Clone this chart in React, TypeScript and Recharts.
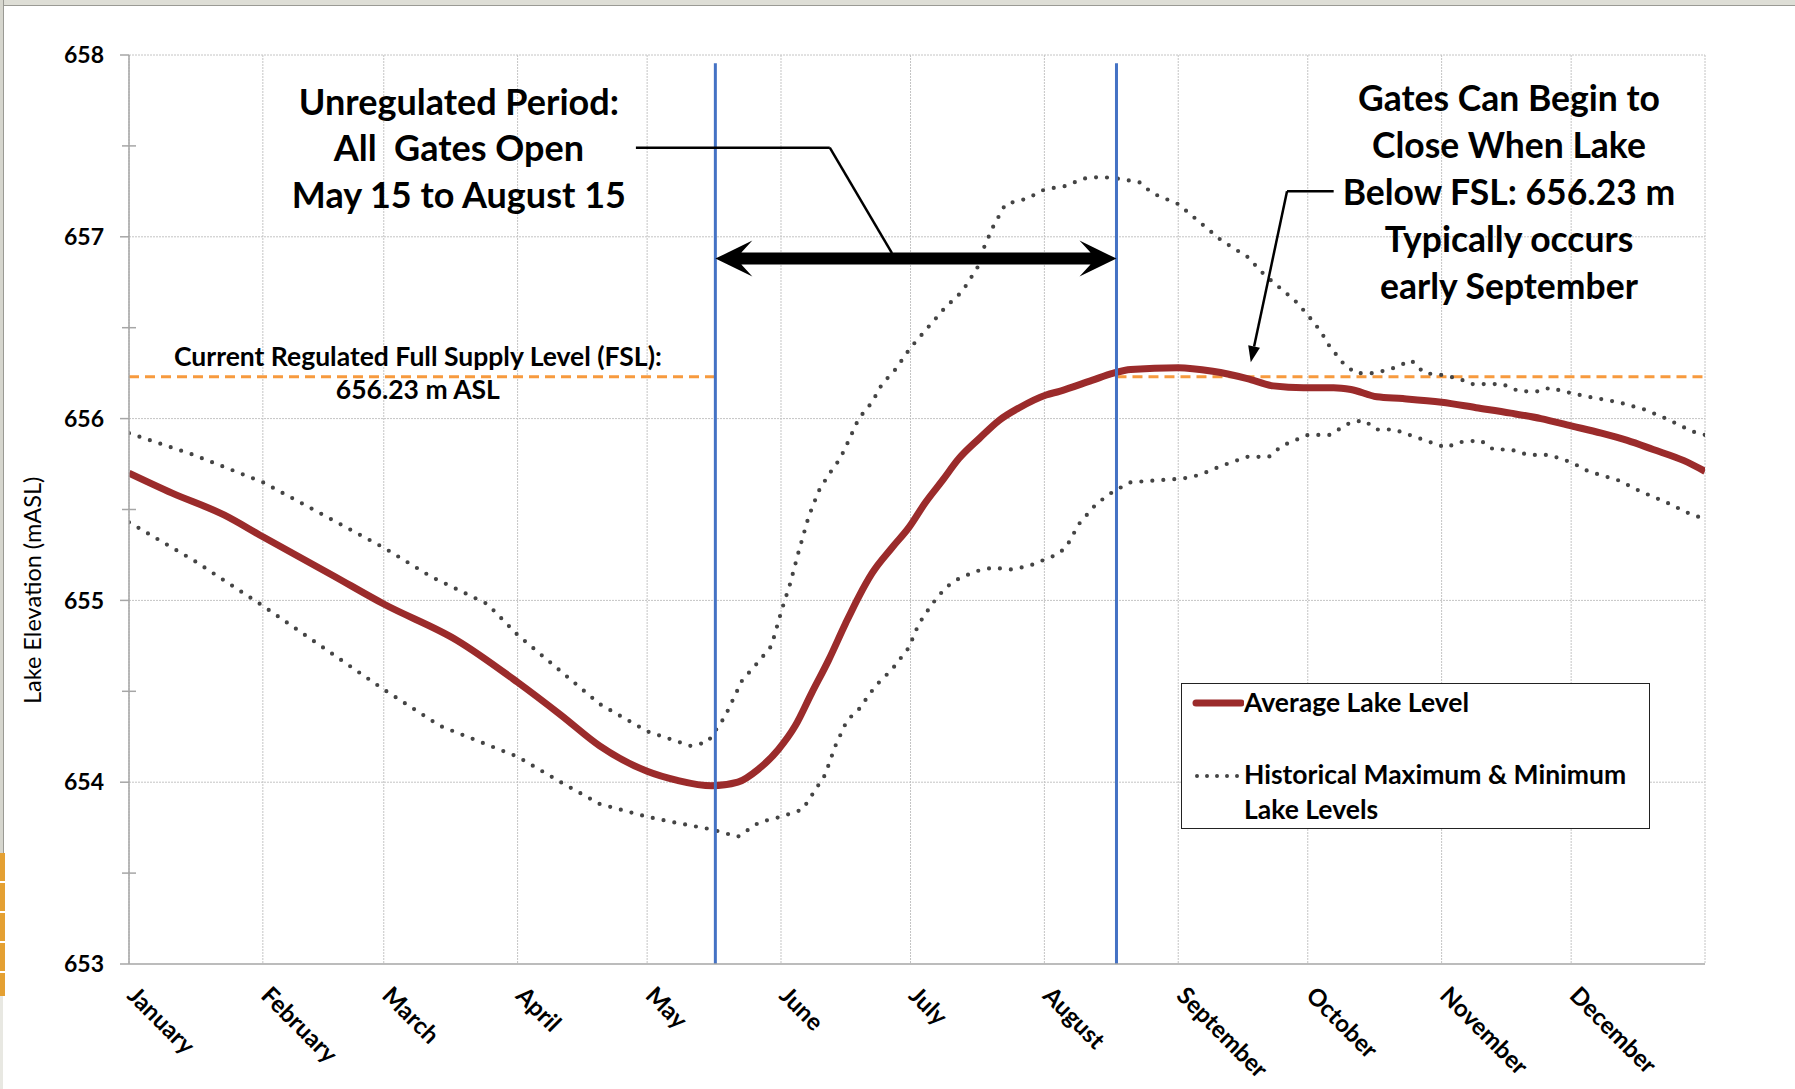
import React from 'react';
import {
  LineChart, Line, XAxis, YAxis, CartesianGrid, ReferenceLine, ReferenceDot,
} from 'recharts';

// ---- data (day of year 0..365, lake level m ASL) ----
const avgDays = [0, 10, 22, 31, 47, 59, 76, 90, 100, 109, 120, 127, 135, 141, 145.7, 150.4, 154.3, 158.1, 162, 165.9, 169, 172.1, 176.7, 180.6, 184.5, 188.4, 192.2, 196.9, 201.5, 206.2, 212.4, 215.5, 223, 228, 232, 243, 251, 259, 265, 272, 279, 283, 289, 295, 304, 312, 320, 327, 334, 341, 347, 353, 360, 365];
const avgLevels = [655.70, 655.59, 655.47, 655.35, 655.14, 654.98, 654.78, 654.55, 654.37, 654.20, 654.06, 654.01, 653.98, 654.00, 654.07, 654.18, 654.31, 654.49, 654.67, 654.87, 655.02, 655.15, 655.29, 655.40, 655.54, 655.66, 655.78, 655.89, 655.99, 656.06, 656.13, 656.15, 656.21, 656.25, 656.27, 656.28, 656.26, 656.22, 656.18, 656.17, 656.17, 656.16, 656.12, 656.11, 656.09, 656.06, 656.03, 656.00, 655.96, 655.92, 655.88, 655.83, 655.77, 655.71];

const maxDays = [0, 15, 31, 45, 59, 70, 83, 90, 109, 120, 130, 134, 138, 142, 145.7, 148.8, 151.2, 153.1, 155, 157.4, 159.7, 162, 164.7, 166.7, 169, 172.1, 174.4, 177.5, 181, 185, 189, 193, 197, 198, 200, 203, 208, 212, 217, 221, 225, 229, 234, 237, 243, 247, 250, 253, 259, 263, 270, 273, 276, 278, 281, 284, 288, 292, 295, 297, 300, 304, 308, 311, 318, 322, 327, 329, 334, 338, 345, 351, 356, 362, 365];
const maxLevels = [655.92, 655.80, 655.65, 655.47, 655.29, 655.13, 654.98, 654.81, 654.43, 654.28, 654.20, 654.22, 654.36, 654.56, 654.66, 654.75, 654.95, 655.09, 655.26, 655.46, 655.60, 655.69, 655.78, 655.88, 656.00, 656.09, 656.19, 656.27, 656.39, 656.50, 656.61, 656.70, 656.85, 656.94, 657.05, 657.18, 657.21, 657.26, 657.28, 657.32, 657.33, 657.32, 657.30, 657.24, 657.18, 657.10, 657.04, 656.98, 656.89, 656.79, 656.65, 656.57, 656.48, 656.40, 656.31, 656.25, 656.25, 656.27, 656.30, 656.32, 656.25, 656.24, 656.22, 656.19, 656.19, 656.15, 656.15, 656.17, 656.14, 656.12, 656.09, 656.05, 656.00, 655.93, 655.91];

const minDays = [0, 15, 31, 45, 59, 72, 90, 100, 109, 120, 126, 135, 141, 146, 151, 156, 161.2, 163.6, 166.3, 169, 172.9, 176.7, 180.6, 182.9, 186, 189.1, 192.2, 196.1, 200, 204.3, 208.5, 214.7, 217, 220, 224, 228, 232, 238, 244, 248, 253, 259, 264, 267, 273, 278, 283, 286, 289, 293, 299, 305, 308, 313, 316, 320, 324, 329, 334, 338, 345, 350, 356, 362, 365];
const minLevels = [655.43, 655.22, 654.97, 654.74, 654.51, 654.31, 654.14, 654.00, 653.88, 653.81, 653.78, 653.74, 653.70, 653.78, 653.81, 653.85, 654.04, 654.20, 654.34, 654.40, 654.53, 654.62, 654.74, 654.87, 654.98, 655.07, 655.12, 655.16, 655.18, 655.17, 655.19, 655.25, 655.29, 655.42, 655.53, 655.60, 655.65, 655.66, 655.67, 655.69, 655.74, 655.79, 655.79, 655.85, 655.91, 655.91, 655.98, 655.99, 655.94, 655.94, 655.89, 655.84, 655.87, 655.88, 655.83, 655.83, 655.80, 655.80, 655.76, 655.71, 655.66, 655.60, 655.54, 655.47, 655.45];

const monthTicks = [0, 31, 59, 90, 120, 151, 181, 212, 243, 273, 304, 334, 365];
const monthLabels = ['January', 'February', 'March', 'April', 'May', 'June', 'July', 'August', 'September', 'October', 'November', 'December'];
const yTicks = [653, 653.5, 654, 654.5, 655, 655.5, 656, 656.5, 657, 657.5, 658];
const gridLevels = [654, 655, 656, 657, 658];

const FSL = 656.23;
const gateOpenDay = 135.8;
const gateCloseDay = 228.7;

const avgData = avgDays.map((d, i) => ({ day: d, level: avgLevels[i] }));
const maxData = maxDays.map((d, i) => ({ day: d, level: maxLevels[i] }));
const minData = minDays.map((d, i) => ({ day: d, level: minLevels[i] }));

const FONT = "Lato, 'Open Sans', sans-serif";
const AVG_COLOR = '#9B2B2B';
const DOT_COLOR = '#444444';
const AXIS_COLOR = '#a6a6a6';

const XTick = (props: any) => {
  const { x, y, index } = props;
  if (index >= monthLabels.length) return null;
  return (
    <text
      transform={`translate(${x - 3},${y + 33}) rotate(45)`}
      textAnchor="start"
      fontFamily={FONT}
      fontWeight={700}
      fontSize={24}
      fill="#000"
    >
      {monthLabels[index]}
    </text>
  );
};

const YTick = (props: any) => {
  const { x, y, payload } = props;
  const v = payload.value;
  const isInt = Math.abs(v - Math.round(v)) < 1e-6;
  return (
    <g>
      {isInt ? (
        <line x1={x - 9} x2={x} y1={y} y2={y} stroke={AXIS_COLOR} strokeWidth={1.5} />
      ) : (
        <line x1={x - 7} x2={x + 7} y1={y} y2={y} stroke={AXIS_COLOR} strokeWidth={1.5} />
      )}
      {isInt && (
        <text x={x - 25} y={y} dy="0.36em" textAnchor="end" fontFamily={FONT} fontWeight={700} fontSize={23} fill="#000">
          {Math.round(v)}
        </text>
      )}
    </g>
  );
};

const YLabel = (props: any) => {
  const { viewBox } = props;
  const cx = 32;
  const cy = viewBox.y + viewBox.height * 0.589;
  return (
    <text
      x={cx}
      y={cy}
      transform={`rotate(-90, ${cx}, ${cy})`}
      textAnchor="middle"
      dominantBaseline="central"
      fontFamily={FONT}
      fontSize={23.5}
      fill="#000"
    >
      Lake Elevation (mASL)
    </text>
  );
};

const TextBlock = (lines: string[], size: number, lineH: number) => (props: any) => {
  const { cx, cy } = props;
  return (
    <g>
      {lines.map((t, i) => (
        <text
          key={i}
          x={cx}
          y={cy + i * lineH}
          dy="0.35em"
          textAnchor="middle"
          fontFamily={FONT}
          fontWeight={700}
          fontSize={size}
          fill="#000"
          style={{ whiteSpace: 'pre' }}
        >
          {t}
        </text>
      ))}
    </g>
  );
};

const DoubleArrow = (props: any) => {
  const { x1, y1, x2 } = props;
  const y = y1;
  const L = 37;
  const H = 18;
  const N = 26;
  const T = 6;
  const d = `M ${x1} ${y} L ${x1 + L} ${y - H} L ${x1 + N} ${y - T} L ${x2 - N} ${y - T} L ${x2 - L} ${y - H} L ${x2} ${y} L ${x2 - L} ${y + H} L ${x2 - N} ${y + T} L ${x1 + N} ${y + T} L ${x1 + L} ${y + H} Z`;
  return <path d={d} fill="#000" />;
};

const ArrowLine = (props: any) => {
  const { x1, y1, x2, y2 } = props;
  const ang = Math.atan2(y2 - y1, x2 - x1);
  const len = 16;
  const w = 6;
  const bx = x2 - len * Math.cos(ang);
  const by = y2 - len * Math.sin(ang);
  const px = -Math.sin(ang) * w;
  const py = Math.cos(ang) * w;
  return (
    <g>
      <line x1={x1} y1={y1} x2={bx} y2={by} stroke="#000" strokeWidth={2.5} />
      <path d={`M ${x2} ${y2} L ${bx + px} ${by + py} L ${bx - px} ${by - py} Z`} fill="#000" />
    </g>
  );
};

const LegendBox = () => (
  <div
    style={{
      position: 'absolute',
      left: 1181,
      top: 683,
      width: 469,
      height: 146,
      boxSizing: 'border-box',
      border: '1.5px solid #222',
      background: '#fff',
      fontFamily: FONT,
      fontWeight: 700,
      fontSize: 26.5,
      color: '#000',
    }}
  >
    <svg width={62} height={140} style={{ position: 'absolute', left: 0, top: 0 }}>
      <line x1={14} x2={59} y1={19} y2={19} stroke={AVG_COLOR} strokeWidth={7} strokeLinecap="round" />
      <line x1={15} x2={60} y1={92} y2={92} stroke={DOT_COLOR} strokeWidth={4} strokeDasharray="0 10" strokeLinecap="round" />
    </svg>
    <div style={{ position: 'absolute', left: 62, top: 1, lineHeight: '34px', whiteSpace: 'nowrap' }}>Average Lake Level</div>
    <div style={{ position: 'absolute', left: 62, top: 73, lineHeight: '35px', whiteSpace: 'nowrap' }}>
      Historical Maximum &amp; Minimum
      <br />
      Lake Levels
    </div>
  </div>
);

export default function App() {
  return (
    <div style={{ position: 'absolute', left: 0, top: 0, width: 1795, height: 1089, background: '#fff', overflow: 'hidden' }}>
      {/* page frame */}
      <div style={{ position: 'absolute', left: 0, top: 0, width: 1795, height: 5, background: '#deded6', borderBottom: '1px solid #9a9a94' }} />
      <div style={{ position: 'absolute', left: 0, top: 0, width: 3, height: 853, background: '#d6d6ce', borderRight: '1px solid #9a9a94' }} />
      <div style={{ position: 'absolute', left: 0, top: 853, width: 5, height: 143, background: 'repeating-linear-gradient(#e4a032 0px, #e4a032 28px, #fff 28px, #fff 30px)' }} />
      <div style={{ position: 'absolute', left: 0, top: 996, width: 3, height: 93, background: '#e8e8e2' }} />

      <div style={{ position: 'absolute', left: 0, top: 0 }}>
        <LineChart width={1795} height={1089} margin={{ top: 55, right: 90, bottom: 0, left: 0 }}>
          <CartesianGrid horizontal={false} vertical stroke="#c4c4c4" strokeDasharray="2 1" />
          {gridLevels.map((v) => (
            <ReferenceLine key={`g${v}`} y={v} stroke="#c4c4c4" strokeDasharray="2 1" />
          ))}
          <XAxis
            type="number"
            dataKey="day"
            domain={[0, 365]}
            ticks={monthTicks}
            interval={0}
            height={125}
            tickSize={0}
            tickMargin={0}
            tickLine={false}
            tick={(p: any) => <XTick {...p} />}
            axisLine={{ stroke: AXIS_COLOR, strokeWidth: 1.5 }}
            allowDataOverflow
          />
          <YAxis
            type="number"
            domain={[653, 658]}
            ticks={yTicks}
            interval={0}
            width={129}
            tickSize={0}
            tickMargin={0}
            tickLine={false}
            tick={(p: any) => <YTick {...p} />}
            axisLine={{ stroke: AXIS_COLOR, strokeWidth: 1.5 }}
            allowDataOverflow
            label={{ content: (p: any) => <YLabel {...p} /> }}
          />

          {/* FSL dashed segments */}
          <ReferenceLine segment={[{ x: 0, y: FSL }, { x: gateOpenDay, y: FSL }]} stroke="#F79A3E" strokeWidth={3} strokeDasharray="10 6" />
          <ReferenceLine segment={[{ x: gateCloseDay, y: FSL }, { x: 365, y: FSL }]} stroke="#F79A3E" strokeWidth={3} strokeDasharray="10 6" />

          <Line data={maxData} dataKey="level" name="Historical Maximum & Minimum Lake Levels" type="linear" stroke={DOT_COLOR} strokeWidth={4.2} strokeDasharray="0 11" strokeLinecap="round" dot={false} isAnimationActive={false} />
          <Line data={minData} dataKey="level" name="Historical Minimum" type="linear" stroke={DOT_COLOR} strokeWidth={4.2} strokeDasharray="0 11" strokeLinecap="round" dot={false} isAnimationActive={false} />
          <Line data={avgData} dataKey="level" name="Average Lake Level" type="monotone" stroke={AVG_COLOR} strokeWidth={7} dot={false} isAnimationActive={false} />

          {/* regulation period boundaries */}
          <ReferenceLine segment={[{ x: gateOpenDay, y: 657.955 }, { x: gateOpenDay, y: 653 }]} stroke="#4472C4" strokeWidth={3} />
          <ReferenceLine segment={[{ x: gateCloseDay, y: 657.955 }, { x: gateCloseDay, y: 653 }]} stroke="#4472C4" strokeWidth={3} />

          {/* double arrow */}
          <ReferenceLine segment={[{ x: gateOpenDay, y: 656.88 }, { x: gateCloseDay, y: 656.88 }]} shape={(p: any) => <DoubleArrow {...p} />} />

          {/* leader line 1 */}
          <ReferenceLine segment={[{ x: 117.4, y: 657.49 }, { x: 162.3, y: 657.49 }]} stroke="#000" strokeWidth={2.5} />
          <ReferenceLine segment={[{ x: 162.3, y: 657.49 }, { x: 176.7, y: 656.91 }]} stroke="#000" strokeWidth={2.5} />

          {/* leader line 2 */}
          <ReferenceLine segment={[{ x: 279, y: 657.25 }, { x: 268.2, y: 657.25 }]} stroke="#000" strokeWidth={2.5} />
          <ReferenceLine segment={[{ x: 268.2, y: 657.25 }, { x: 259.8, y: 656.31 }]} shape={(p: any) => <ArrowLine {...p} />} />

          {/* annotation texts */}
          <ReferenceDot x={76.4} y={657.74} r={0} shape={TextBlock(['Unregulated Period:', 'All  Gates Open', 'May 15 to August 15'], 36, 46.5)} />
          <ReferenceDot x={319.6} y={657.76} r={0} shape={TextBlock(['Gates Can Begin to', 'Close When Lake', 'Below FSL: 656.23 m', 'Typically occurs', 'early September'], 35.5, 47)} />
          <ReferenceDot x={66.9} y={656.34} r={0} shape={TextBlock(['Current Regulated Full Supply Level (FSL):', '656.23 m ASL'], 26.5, 33)} />
        </LineChart>
      </div>
      <LegendBox />
    </div>
  );
}
